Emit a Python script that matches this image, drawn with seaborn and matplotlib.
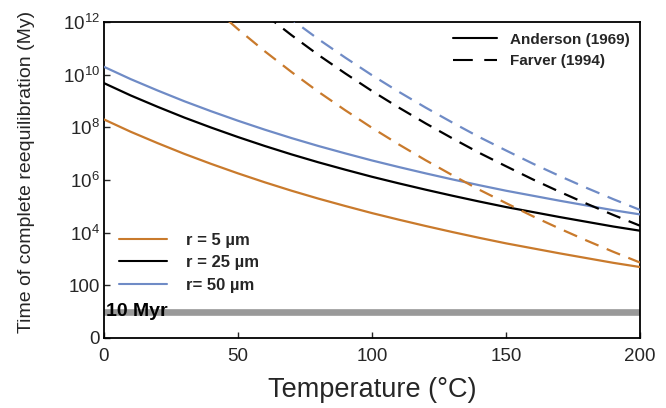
import numpy as np
import pandas as pd
import matplotlib
matplotlib.use("Agg")
import matplotlib.pyplot as plt
from matplotlib.lines import Line2D
import seaborn as sns

# ---------------- data (log10 of time in My) ----------------
temp_full = [0, 10, 20, 30, 40, 50, 60, 70, 80, 90, 100,
             110, 120, 130, 140, 150, 160, 170, 180, 190, 200]

anderson_r5 = [8.30, 7.83, 7.40, 6.99, 6.61, 6.25, 5.91, 5.59, 5.29, 5.01, 4.74,
               4.49, 4.25, 4.02, 3.80, 3.59, 3.40, 3.21, 3.03, 2.85, 2.69]
anderson_r25 = [9.68, 9.21, 8.78, 8.37, 7.99, 7.63, 7.29, 6.97, 6.67, 6.39, 6.12,
                5.87, 5.63, 5.40, 5.18, 4.97, 4.78, 4.59, 4.41, 4.23, 4.07]
anderson_r50 = [10.30, 9.83, 9.40, 8.99, 8.61, 8.25, 7.91, 7.59, 7.29, 7.01, 6.74,
                6.49, 6.25, 6.02, 5.80, 5.59, 5.40, 5.21, 5.03, 4.85, 4.69]

temp_f5 = [40, 50, 60, 70, 80, 90, 100, 110, 120, 130, 140, 150, 160, 170, 180, 190, 200]
farver_r5 = [12.62, 11.73, 10.89, 10.10, 9.35, 8.65, 7.98, 7.35, 6.75, 6.18, 5.63,
             5.12, 4.62, 4.15, 3.70, 3.27, 2.86]
temp_f25 = [60, 70, 80, 90, 100, 110, 120, 130, 140, 150, 160, 170, 180, 190, 200]
farver_r25 = [12.29, 11.50, 10.75, 10.05, 9.38, 8.75, 8.15, 7.58, 7.03, 6.52, 6.02,
              5.55, 5.10, 4.67, 4.26]
temp_f50 = [60, 70, 80, 90, 100, 110, 120, 130, 140, 150, 160, 170, 180, 190, 200]
farver_r50 = [12.89, 12.10, 11.35, 10.65, 9.98, 9.35, 8.75, 8.18, 7.63, 7.12, 6.62,
              6.15, 5.70, 5.27, 4.86]

radius_labels = ["r = 5 µm", "r = 25 µm", "r= 50 µm"]
model_labels = ["Anderson (1969)", "Farver (1994)"]
band_value = 10  # 10 Myr
ytick_values = [1, 1e2, 1e4, 1e6, 1e8, 1e10, 1e12]
ytick_labels = ["0", "100", r"$\mathregular{10^{4}}$", r"$\mathregular{10^{6}}$",
                r"$\mathregular{10^{8}}$", r"$\mathregular{10^{10}}$", r"$\mathregular{10^{12}}$"]
xtick_values = [0, 50, 100, 150, 200]

# ---------------- build long table ----------------
rows = []
def add(temps, logs, radius, model):
    for t, l in zip(temps, logs):
        rows.append({"T": t, "time": 10 ** l, "radius": radius, "model": model})

add(temp_full, anderson_r5, radius_labels[0], model_labels[0])
add(temp_full, anderson_r25, radius_labels[1], model_labels[0])
add(temp_full, anderson_r50, radius_labels[2], model_labels[0])
add(temp_f5, farver_r5, radius_labels[0], model_labels[1])
add(temp_f25, farver_r25, radius_labels[1], model_labels[1])
add(temp_f50, farver_r50, radius_labels[2], model_labels[1])
df = pd.DataFrame(rows)

# ---------------- style ----------------
sns.set_theme(style="white")
plt.rcParams["font.family"] = ["Liberation Sans", "DejaVu Sans"]
plt.rcParams["mathtext.fontset"] = "custom"
plt.rcParams["mathtext.rm"] = "Liberation Sans"

colors = {radius_labels[0]: "#C97A2C", radius_labels[1]: "#000000", radius_labels[2]: "#6F8BC6"}
dash_pat = (6.5, 4)

fig = plt.figure(figsize=(6.66, 4.08), dpi=100)
ax = fig.add_axes([0.156, 0.172, 0.805, 0.774])

for model in model_labels:
    for r in radius_labels:
        sub = df[(df.model == model) & (df.radius == r)]
        sns.lineplot(data=sub, x="T", y="time", ax=ax, color=colors[r], lw=1.6,
                     legend=False, zorder=3)
        if model == model_labels[1]:
            ax.lines[-1].set_dashes(dash_pat)

ax.set_yscale("log")
ax.set_xlim(0, 200)
ax.set_ylim(1, 1e12)

# 10 Myr band
ax.axhline(band_value, color="#999999", lw=4.8, zorder=2)
ax.text(0.6, band_value, "10 Myr", fontsize=14, fontweight="bold", va="center",
        ha="left", color="black", zorder=4)

ax.set_yticks(ytick_values)
ax.set_yticklabels(ytick_labels)
ax.yaxis.set_minor_locator(matplotlib.ticker.NullLocator())
ax.set_xticks(xtick_values)
ax.set_xticklabels([str(v) for v in xtick_values])
ax.tick_params(axis="both", direction="in", length=4, width=1, labelsize=13.5,
               left=True, bottom=True, top=False, right=False)
ax.tick_params(axis="y", pad=3)
ax.tick_params(axis="x", pad=7)

for s in ax.spines.values():
    s.set_color("black")
    s.set_linewidth(1.3)

ax.set_xlabel("Temperature (°C)", fontsize=19.5, labelpad=9)
ax.set_ylabel("Time of complete reequilibration (My)", fontsize=14)
ax.yaxis.set_label_coords(-0.128, 0.525)

# legends
h_model = [Line2D([], [], color="black", lw=1.5),
           Line2D([], [], color="black", lw=1.5, dashes=(9.5, 5.5))]
leg1 = ax.legend(h_model, model_labels, loc="upper right", frameon=False,
                 prop={"weight": "bold", "size": 11}, handlelength=2.9,
                 handletextpad=0.8, labelspacing=0.5, borderaxespad=0.3)
ax.add_artist(leg1)

h_rad = [Line2D([], [], color=colors[r], lw=1.5) for r in radius_labels]
ax.legend(h_rad, radius_labels, loc="lower left", bbox_to_anchor=(0.0, 0.095),
          frameon=False, prop={"weight": "bold", "size": 12}, handlelength=2.9,
          handletextpad=1.1, labelspacing=0.45, borderaxespad=0.5)

fig.savefig("out.png", dpi=100)
